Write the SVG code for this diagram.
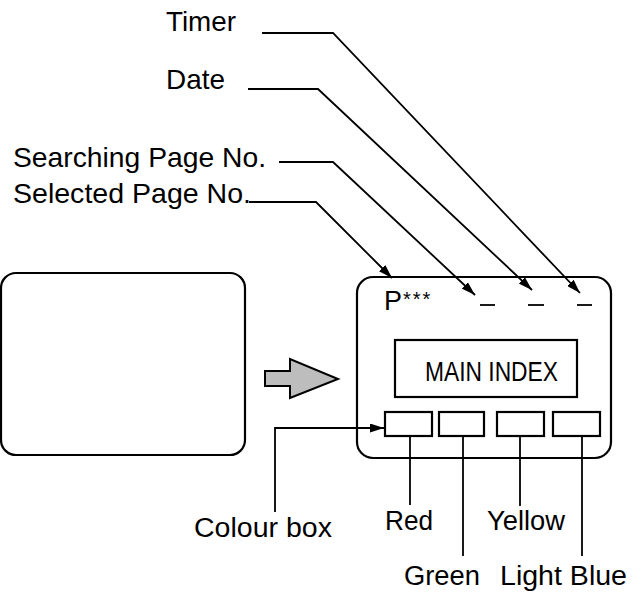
<svg xmlns="http://www.w3.org/2000/svg" width="644" height="592" viewBox="0 0 644 592">
<style>
  .box{fill:none;stroke:#000;stroke-width:2.2}
  .ln{fill:none;stroke:#000;stroke-width:1.8}
  .lbl{font-family:"Liberation Sans",Arial,sans-serif;font-size:28px;fill:#000}
  .sm{font-family:"Liberation Sans",Arial,sans-serif;font-size:27px;fill:#000}
</style>
<defs>
  <marker id="ah" markerUnits="userSpaceOnUse" markerWidth="15" markerHeight="9" refX="14" refY="4.5" orient="auto">
    <path d="M0,0 L14,4.5 L0,9 z" fill="#000"/>
  </marker>
</defs>
<rect width="644" height="592" fill="#fff"/>

<g id="screen-before">
  <rect class="box" x="1" y="273" width="244" height="182" rx="15"/>
</g>

<g id="transition-arrow">
  <polygon points="265,371 290,371 290,359 338,379 290,398 290,386 265,386" fill="#bdbdbd" stroke="#000" stroke-width="2"/>
</g>

<g id="screen-after">
  <rect class="box" x="357" y="277" width="254" height="181" rx="16"/>
  <text class="sm" x="384" y="310" font-size="26">P<tspan x="403" y="306" font-size="20" letter-spacing="2">***</tspan></text>
  <line class="ln" x1="480" y1="305" x2="495" y2="305" stroke-width="2"/>
  <line class="ln" x1="528" y1="305" x2="544" y2="305" stroke-width="2"/>
  <line class="ln" x1="577" y1="305" x2="592" y2="305" stroke-width="2"/>
</g>

<g id="main-index">
  <rect class="box" x="395" y="340" width="182" height="57"/>
  <text class="sm" x="425" y="381" font-size="23" textLength="133" lengthAdjust="spacingAndGlyphs">MAIN INDEX</text>
</g>

<g id="colour-boxes">
  <rect class="box" x="385" y="412" width="47" height="24"/>
  <rect class="box" x="439" y="412" width="45" height="24"/>
  <rect class="box" x="497" y="412" width="47" height="24"/>
  <rect class="box" x="553" y="412" width="47" height="24"/>
</g>

<g id="labels">
  <text class="lbl" x="166" y="31" textLength="70" lengthAdjust="spacingAndGlyphs">Timer</text>
  <text class="lbl" x="166" y="89" textLength="59" lengthAdjust="spacingAndGlyphs">Date</text>
  <text class="lbl" x="13" y="167" textLength="253" lengthAdjust="spacingAndGlyphs">Searching Page No.</text>
  <text class="lbl" x="13" y="203" textLength="238" lengthAdjust="spacingAndGlyphs">Selected Page No.</text>
  <text class="sm" x="194" y="537" textLength="138" lengthAdjust="spacingAndGlyphs">Colour box</text>
  <text class="sm" x="385" y="530" textLength="48" lengthAdjust="spacingAndGlyphs">Red</text>
  <text class="sm" x="487" y="530" textLength="78" lengthAdjust="spacingAndGlyphs">Yellow</text>
  <text class="sm" x="404" y="585" textLength="76" lengthAdjust="spacingAndGlyphs">Green</text>
  <text class="sm" x="500" y="585" textLength="127" lengthAdjust="spacingAndGlyphs">Light Blue</text>
</g>

<g id="connectors">
  <polyline class="ln" points="262,33 333,33 580,293" marker-end="url(#ah)"/>
  <polyline class="ln" points="248,89 318,89 532,290" marker-end="url(#ah)"/>
  <polyline class="ln" points="279,162 333,162 475,295" marker-end="url(#ah)"/>
  <polyline class="ln" points="249,202 316,202 392,278" marker-end="url(#ah)"/>
  <polyline class="ln" points="275,512 275,428 384,428" marker-end="url(#ah)"/>
  <line class="ln" x1="410" y1="436" x2="410" y2="505"/>
  <line class="ln" x1="463" y1="436" x2="463" y2="556"/>
  <line class="ln" x1="520" y1="436" x2="520" y2="506"/>
  <line class="ln" x1="582" y1="436" x2="582" y2="556"/>
</g>
</svg>
